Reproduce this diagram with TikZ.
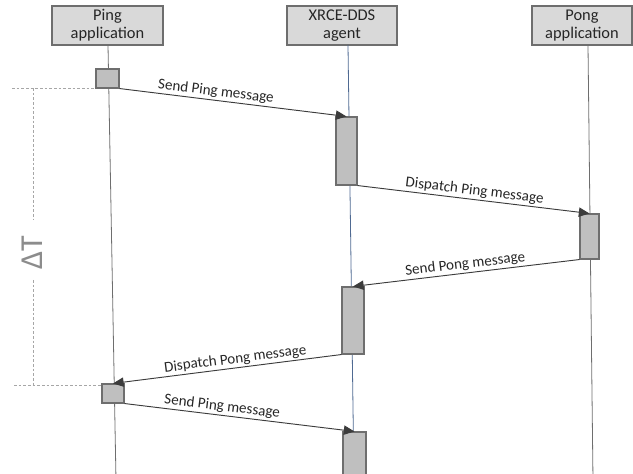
\documentclass[tikz,border=0pt]{standalone}
\usepackage{fontspec}
\setmainfont{Carlito}
\usetikzlibrary{arrows.meta}
\definecolor{hdrfill}{HTML}{D9D9D9}
\definecolor{actfill}{HTML}{BFBFBF}
\definecolor{edge}{HTML}{6E6E6E}
\definecolor{txt}{HTML}{262626}
\definecolor{lifegray}{HTML}{6E6E6E}
\definecolor{lifeblue}{HTML}{4F6A92}
\definecolor{dimgray}{HTML}{A6A6A6}
\definecolor{dtgray}{HTML}{8C8C8C}
\begin{document}
\begin{tikzpicture}[x=0.75pt,y=-0.75pt,
  hdr/.style={draw=edge, line width=0.9pt, fill=hdrfill, text=txt,
    align=center, inner sep=0pt, minimum height=29.25pt,
    font=\fontsize{12.3}{13.5}\selectfont},
  act/.style={draw=edge, line width=0.8pt, fill=actfill, inner sep=0pt},
  life/.style={draw=lifegray, line width=0.6pt},
  msg/.style={draw=txt!90, line width=0.7pt, -{Triangle[length=8pt,width=7pt]}},
  lbl/.style={sloped, above, inner sep=1.2pt, text=txt,
    font=\fontsize{11.3}{12}\selectfont},
  dim/.style={draw=dimgray, line width=0.5pt, dash pattern=on 2pt off 1.5pt}]
\useasboundingbox (0,0) rectangle (633,474);
\clip (0,0) rectangle (633,474);

% participants
\node[hdr, minimum width=83.25pt] (ping) at (107.5,25.5) {Ping\\application};
\node[hdr, minimum width=82.5pt] (agent) at (342,25.5) {XRCE-DDS\\agent};
\node[hdr, minimum width=75pt] (pong) at (582,25.5) {Pong\\application};

% lifelines
\coordinate (pingend) at (116,480);
\coordinate (agentend) at (354,480);
\coordinate (pongend) at (593,480);
\draw[life] (108,45) -- (pingend);
\draw[draw=lifeblue, line width=0.6pt] (348,45) -- (agentend);
\draw[life] (588,45) -- (pongend);

% time interval marker
\coordinate (dtl1) at (12,88);
\coordinate (dtl2) at (14,385);
\coordinate (dtv1) at (33,88);
\coordinate (dtv2) at (33,220);
\coordinate (dtv3) at (33,280);
\coordinate (dtv4) at (33,385);
\draw[dim] (dtl1) -- (96,88);
\draw[dim] (dtl2) -- (102,385);
\draw[dim] (dtv1) -- (dtv2);
\draw[dim] (dtv3) -- (dtv4);
\node[rotate=90, text=dtgray, inner sep=0pt,
  font=\fontsize{24}{26}\selectfont] (dt) at (32,253) {ΔT};

% activations
\node[act, minimum width=17.25pt, minimum height=14.25pt] (p1) at (107.5,78.5) {};
\node[act, minimum width=15.75pt, minimum height=51pt] (a1) at (346.5,151) {};
\node[act, minimum width=14.25pt, minimum height=33.75pt] (q1) at (589.5,236.5) {};
\node[act, minimum width=16.5pt, minimum height=50.25pt] (a2) at (353,320.5) {};
\node[act, minimum width=16.5pt, minimum height=14.25pt] (p2) at (113,393.5) {};
\node[act, minimum width=17.25pt, minimum height=45pt] (a3) at (354.5,462) {};

% messages
\draw[msg] (p1.south east) -- node[lbl, pos=0.42] {Send Ping message} (a1.north);
\draw[msg] (a1.south east) -- node[lbl, pos=0.5] {Dispatch Ping message} (q1.north);
\draw[msg] (q1.south west) -- node[lbl, pos=0.5] {Send Pong message} (a2.north);
\draw[msg] (a2.south west) -- node[lbl, pos=0.46] {Dispatch Pong message} (p2.north);
\draw[msg] (p2.south east) -- node[lbl, pos=0.42] {Send Ping message} (a3.north);
\end{tikzpicture}
\end{document}
